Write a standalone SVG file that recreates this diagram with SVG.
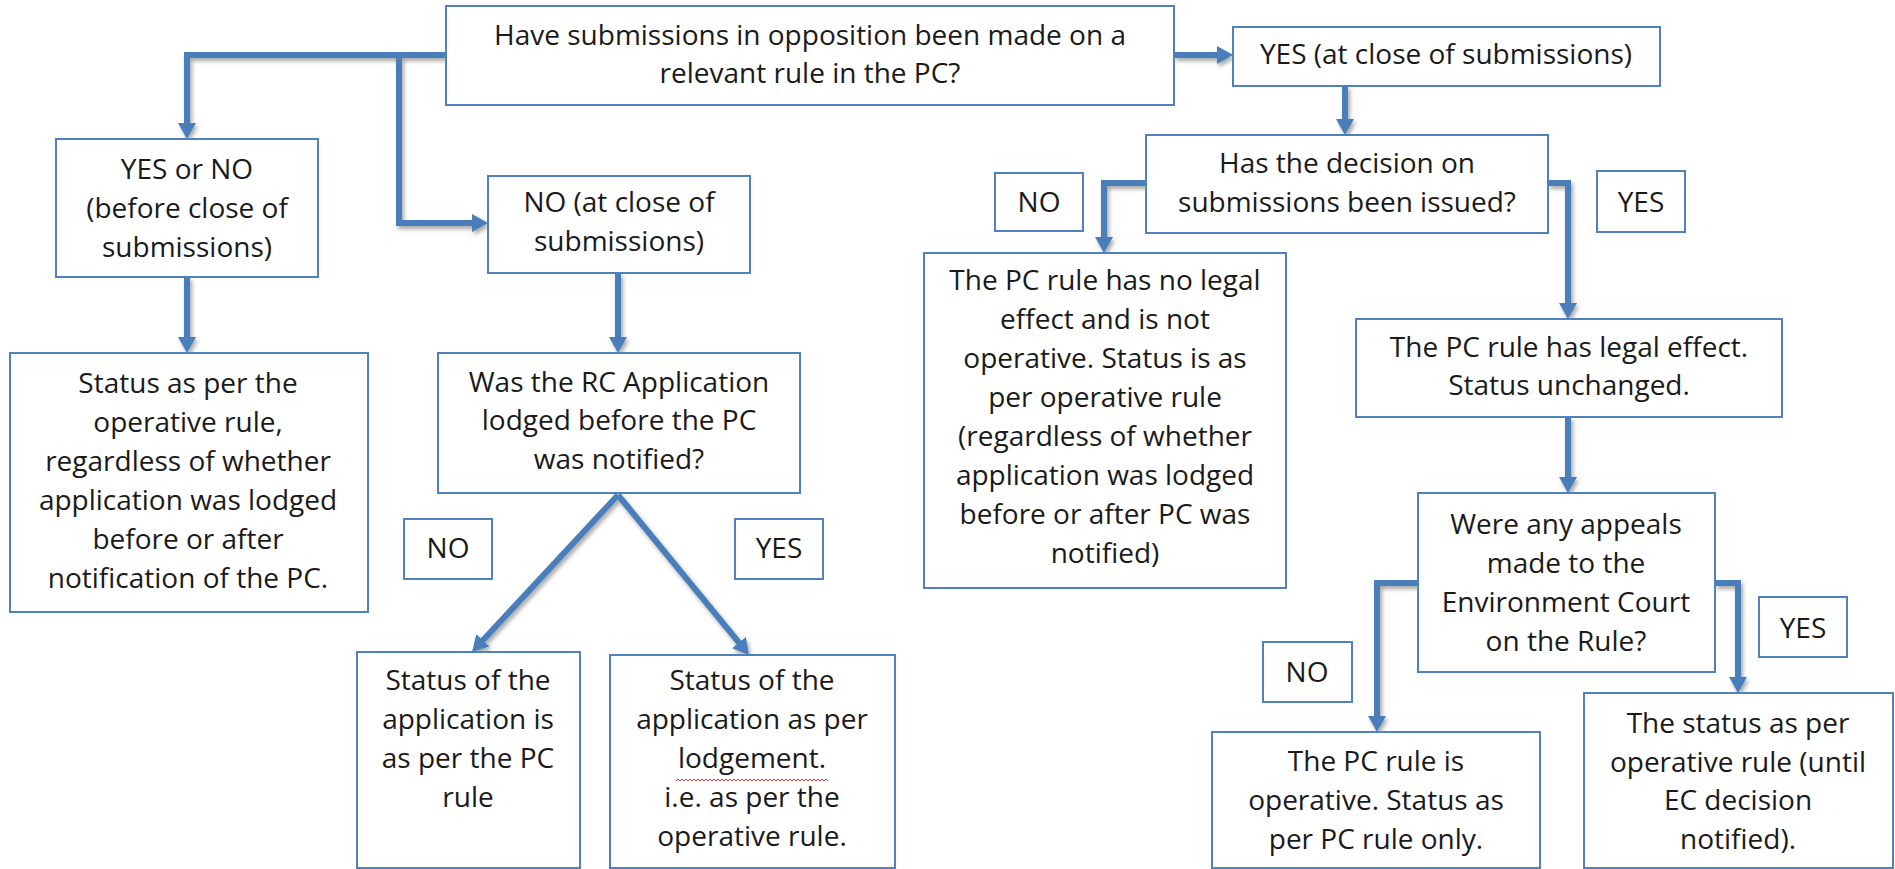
<svg xmlns="http://www.w3.org/2000/svg" width="1895" height="869" viewBox="0 0 1895 869">
<style>
.box{fill:#fff;stroke:#4F81BD;stroke-width:2}
.t{font-family:"Open Sans","Liberation Sans",sans-serif;font-size:28px;fill:#1a1a1a;text-anchor:middle}
.c{fill:none;stroke:#4A7EBB;stroke-width:6;stroke-linejoin:miter}
</style>
<defs>
<marker id="ah" viewBox="0 0 16 18" refX="4" refY="9" markerWidth="16" markerHeight="18" markerUnits="userSpaceOnUse" orient="auto">
<path d="M0,0 L16,9 L0,18 Z" fill="#4A7EBB"/>
</marker>
<filter id="sh" x="-20%" y="-20%" width="140%" height="140%">
<feDropShadow dx="2" dy="3" stdDeviation="2" flood-color="#000" flood-opacity="0.35"/>
</filter>
</defs>
<rect width="1895" height="869" fill="#fff"/>

<g id="connectors" filter="url(#sh)">
<path class="c" d="M446,55 H187 V127" marker-end="url(#ah)"/>
<path class="c" d="M399,55 V223 H476" marker-end="url(#ah)"/>
<path class="c" d="M1174,55 H1221" marker-end="url(#ah)"/>
<path class="c" d="M1345,86 V123" marker-end="url(#ah)"/>
<path class="c" d="M1146,183 H1104 V241" marker-end="url(#ah)"/>
<path class="c" d="M1548,183 H1568 V307" marker-end="url(#ah)"/>
<path class="c" d="M1568,417 V481" marker-end="url(#ah)"/>
<path class="c" d="M1418,583 H1377 V720" marker-end="url(#ah)"/>
<path class="c" d="M1715,583 H1738 V681" marker-end="url(#ah)"/>
<path class="c" d="M187,277 V341" marker-end="url(#ah)"/>
<path class="c" d="M618,273 V341" marker-end="url(#ah)"/>
<path class="c" d="M618,495 L480.2,643.2" marker-end="url(#ah)"/>
<path class="c" d="M618,495 L741.4,645.7" marker-end="url(#ah)"/>
</g>

<g id="n-top"><rect class="box" x="446" y="6" width="728" height="99"/>
<text class="t"><tspan x="810" y="45">Have submissions in opposition been made on a</tspan><tspan x="810" y="83">relevant rule in the PC?</tspan></text></g>

<g id="n-yes-close"><rect class="box" x="1233" y="27" width="427" height="59"/>
<text class="t"><tspan x="1446" y="64">YES (at close of submissions)</tspan></text></g>

<g id="n-yesno"><rect class="box" x="56" y="139" width="262" height="138"/>
<text class="t"><tspan x="187" y="179">YES or NO</tspan><tspan x="187" y="218">(before close of</tspan><tspan x="187" y="257">submissions)</tspan></text></g>

<g id="n-no-close"><rect class="box" x="488" y="176" width="262" height="97"/>
<text class="t"><tspan x="619" y="212">NO (at close of</tspan><tspan x="619" y="251">submissions)</tspan></text></g>

<g id="n-decision"><rect class="box" x="1146" y="135" width="402" height="98"/>
<text class="t"><tspan x="1347" y="173">Has the decision on</tspan><tspan x="1347" y="212">submissions been issued?</tspan></text></g>

<g id="l-no1"><rect class="box" x="995" y="173" width="88" height="58"/>
<text class="t"><tspan x="1039" y="212">NO</tspan></text></g>

<g id="l-yes1"><rect class="box" x="1597" y="171" width="88" height="61"/>
<text class="t"><tspan x="1641" y="212">YES</tspan></text></g>

<g id="n-status-operative"><rect class="box" x="10" y="353" width="358" height="259"/>
<text class="t"><tspan x="188" y="393">Status as per the</tspan><tspan x="188" y="432">operative rule,</tspan><tspan x="188" y="471">regardless of whether</tspan><tspan x="188" y="510">application was lodged</tspan><tspan x="188" y="549">before or after</tspan><tspan x="188" y="588">notification of the PC.</tspan></text></g>

<g id="n-rc"><rect class="box" x="438" y="353" width="362" height="140"/>
<text class="t"><tspan x="619" y="392">Was the RC Application</tspan><tspan x="619" y="430">lodged before the PC</tspan><tspan x="619" y="469">was notified?</tspan></text></g>

<g id="n-no-legal"><rect class="box" x="924" y="253" width="362" height="335"/>
<text class="t"><tspan x="1105" y="290">The PC rule has no legal</tspan><tspan x="1105" y="329">effect and is not</tspan><tspan x="1105" y="368">operative. Status is as</tspan><tspan x="1105" y="407">per operative rule</tspan><tspan x="1105" y="446">(regardless of whether</tspan><tspan x="1105" y="485">application was lodged</tspan><tspan x="1105" y="524">before or after PC was</tspan><tspan x="1105" y="563">notified)</tspan></text></g>

<g id="n-legal"><rect class="box" x="1356" y="319" width="426" height="98"/>
<text class="t"><tspan x="1569" y="357">The PC rule has legal effect.</tspan><tspan x="1569" y="395">Status unchanged.</tspan></text></g>

<g id="n-appeals"><rect class="box" x="1418" y="493" width="297" height="179"/>
<text class="t"><tspan x="1566" y="534">Were any appeals</tspan><tspan x="1566" y="573">made to the</tspan><tspan x="1566" y="612">Environment Court</tspan><tspan x="1566" y="651">on the Rule?</tspan></text></g>

<g id="l-no2"><rect class="box" x="404" y="519" width="88" height="60"/>
<text class="t"><tspan x="448" y="558">NO</tspan></text></g>

<g id="l-yes2"><rect class="box" x="735" y="519" width="88" height="60"/>
<text class="t"><tspan x="779" y="558">YES</tspan></text></g>

<g id="n-status-pc"><rect class="box" x="357" y="652" width="223" height="216"/>
<text class="t"><tspan x="468" y="690">Status of the</tspan><tspan x="468" y="729">application is</tspan><tspan x="468" y="768">as per the PC</tspan><tspan x="468" y="807">rule</tspan></text></g>

<g id="n-status-lodge"><rect class="box" x="610" y="655" width="285" height="213"/>
<text class="t"><tspan x="752" y="690">Status of the</tspan><tspan x="752" y="729">application as per</tspan><tspan x="752" y="768">lodgement.</tspan><tspan x="752" y="807">i.e. as per the</tspan><tspan x="752" y="846">operative rule.</tspan></text>
<path d="M676,781 l2,-2 2,2 2,-2 2,2 2,-2 2,2 2,-2 2,2 2,-2 2,2 2,-2 2,2 2,-2 2,2 2,-2 2,2 2,-2 2,2 2,-2 2,2 2,-2 2,2 2,-2 2,2 2,-2 2,2 2,-2 2,2 2,-2 2,2 2,-2 2,2 2,-2 2,2 2,-2 2,2 2,-2 2,2 2,-2 2,2 2,-2 2,2 2,-2 2,2 2,-2 2,2 2,-2 2,2 2,-2 2,2 2,-2 2,2 2,-2 2,2 2,-2 2,2 2,-2 2,2 2,-2 2,2 2,-2 2,2 2,-2 2,2 2,-2 2,2 2,-2 2,2 2,-2 2,2 2,-2 2,2 2,-2 2,2 2,-2 2,2" fill="none" stroke="#e53935" stroke-width="1"/></g>

<g id="l-no3"><rect class="box" x="1263" y="642" width="89" height="60"/>
<text class="t"><tspan x="1307" y="682">NO</tspan></text></g>

<g id="l-yes3"><rect class="box" x="1759" y="597" width="88" height="60"/>
<text class="t"><tspan x="1803" y="638">YES</tspan></text></g>

<g id="n-pc-operative"><rect class="box" x="1212" y="732" width="328" height="136"/>
<text class="t"><tspan x="1376" y="771">The PC rule is</tspan><tspan x="1376" y="810">operative. Status as</tspan><tspan x="1376" y="849">per PC rule only.</tspan></text></g>

<g id="n-ec"><rect class="box" x="1584" y="693" width="309" height="175"/>
<text class="t"><tspan x="1738" y="733">The status as per</tspan><tspan x="1738" y="772">operative rule (until</tspan><tspan x="1738" y="810">EC decision</tspan><tspan x="1738" y="849">notified).</tspan></text></g>
</svg>
